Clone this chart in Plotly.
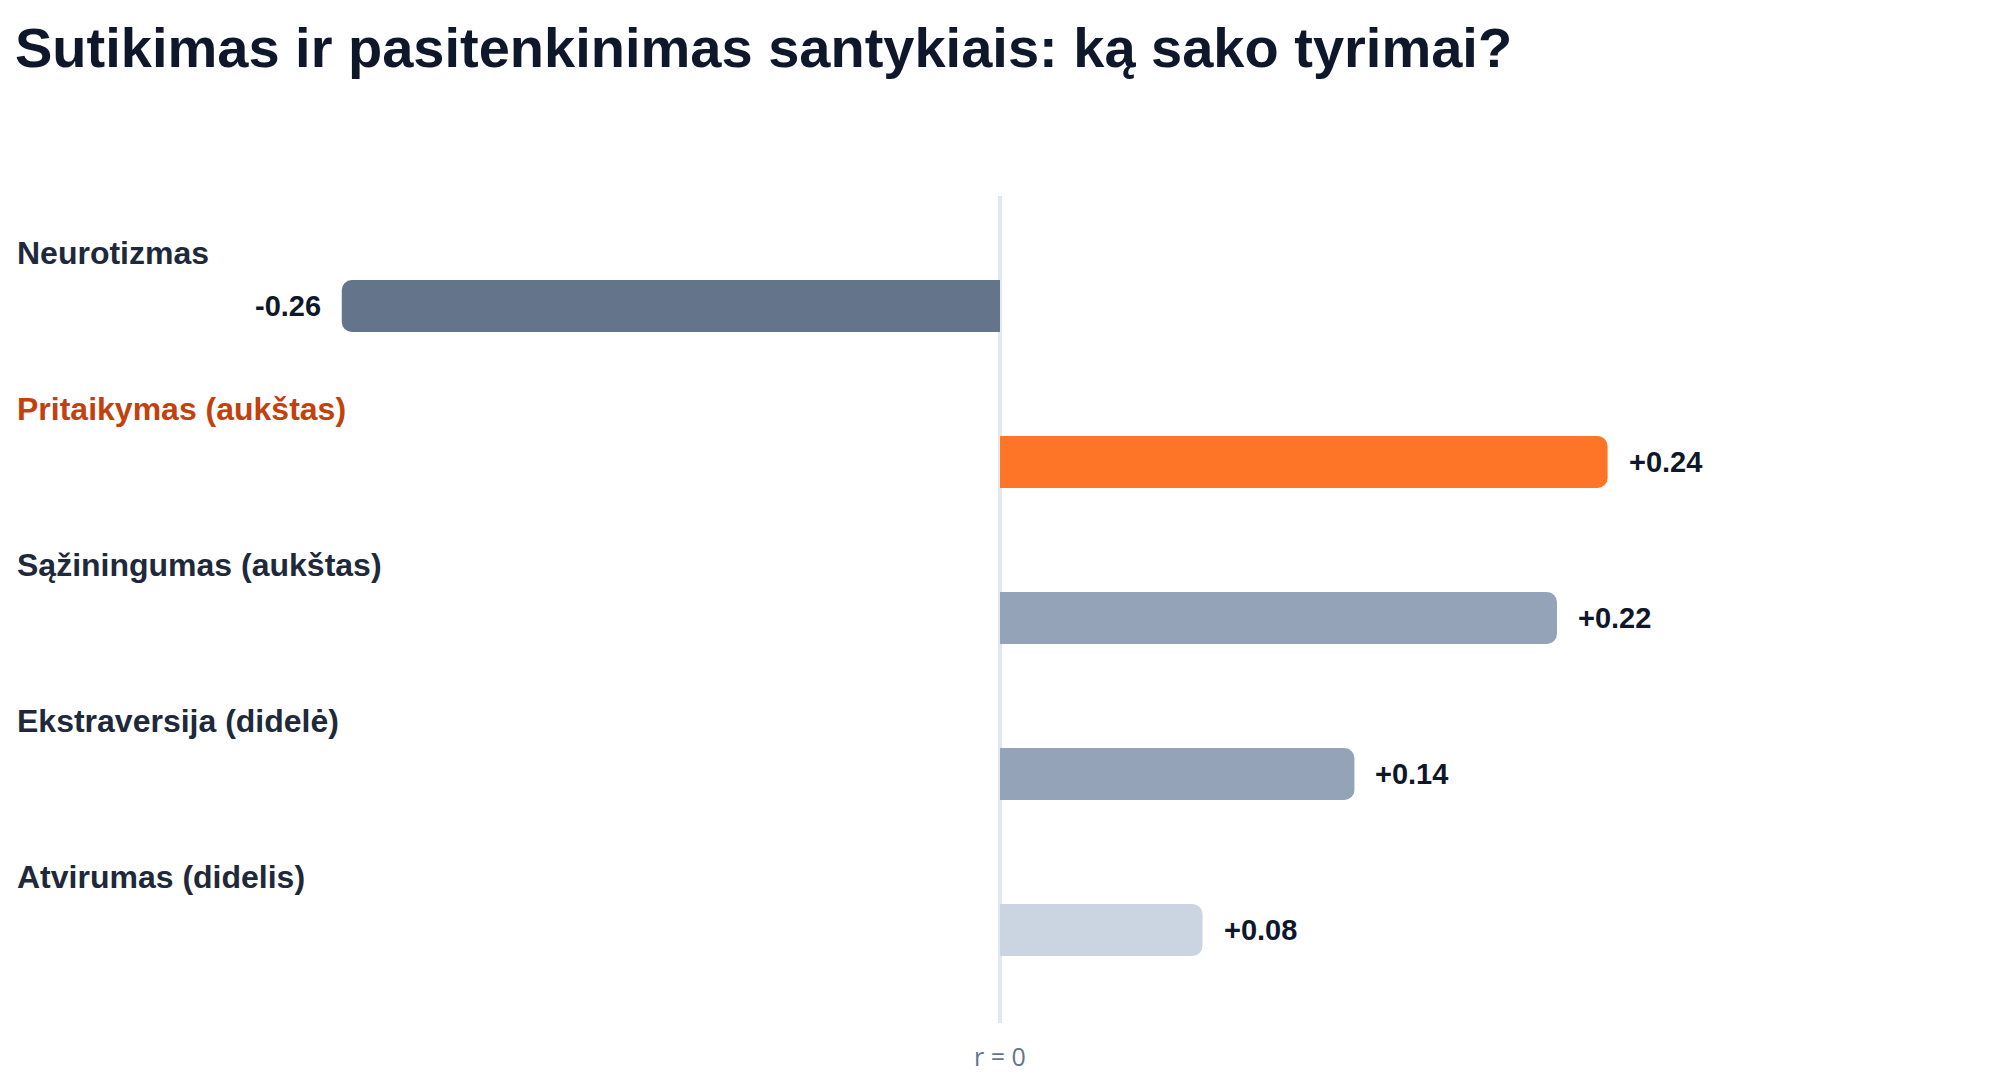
import plotly.graph_objects as go

categories = ["Neurotizmas", "Pritaikymas (aukštas)", "Sąžiningumas (aukštas)",
              "Ekstraversija (didelė)", "Atvirumas (didelis)"]
values = [-0.26, 0.24, 0.22, 0.14, 0.08]
bar_colors = ["#64748b", "#ff7527", "#94a3b8", "#94a3b8", "#cbd5e1"]
label_colors = ["#1e293b", "#c2410c", "#1e293b", "#1e293b", "#1e293b"]
title_text = "Sutikimas ir pasitenkinimas santykiais: ką sako tyrimai?"
zero_label = "r = 0"

W, H = 2000, 1080
FONT = "Liberation Sans, Arial, sans-serif"

fig = go.Figure()
fig.add_trace(go.Bar(
    x=values, y=categories, orientation="h",
    marker=dict(color=bar_colors, line=dict(width=0)),
    width=0.333, hoverinfo="skip", showlegend=False,
))

annotations = []
for cat, v, lc in zip(categories, values, label_colors):
    annotations.append(dict(
        x=15 / W, xref="paper", y=cat, yref="y",
        text=f"<b>{cat}</b>", showarrow=False,
        xanchor="left", yanchor="middle", yshift=53,
        font=dict(family=FONT, size=32, color=lc),
    ))
    annotations.append(dict(
        x=v, xref="x", y=cat, yref="y",
        text=f"<b>{v:+.2f}</b>", showarrow=False,
        xanchor="left" if v >= 0 else "right", yanchor="middle",
        xshift=19 if v >= 0 else -19,
        font=dict(family=FONT, size=29, color="#0f172a"),
    ))

fig.update_layout(
    width=W, height=H,
    paper_bgcolor="white", plot_bgcolor="white",
    margin=dict(l=0, r=0, t=196, b=57, pad=0),
    barcornerradius=10,
    title=dict(text=f"<b>{title_text}</b>", x=15 / W, xref="container", xanchor="left",
               y=1 - 28 / H, yref="container", yanchor="top",
               font=dict(family=FONT, size=56, color="#0f172a")),
    xaxis=dict(range=[-0.395, 0.395], showgrid=False, zeroline=True,
               zerolinecolor="#e2e8f0", zerolinewidth=4,
               tickvals=[0], ticktext=[zero_label], ticks="", showline=False,
               ticklabelstandoff=17,
               tickfont=dict(family="Open Sans, sans-serif", size=25, color="#64748b")),
    yaxis=dict(type="category", categoryorder="array", categoryarray=categories,
               range=[4.596, -0.705], showticklabels=False, showgrid=False,
               zeroline=False, showline=False, ticks=""),
    annotations=annotations,
)

fig.write_html("out.html")
